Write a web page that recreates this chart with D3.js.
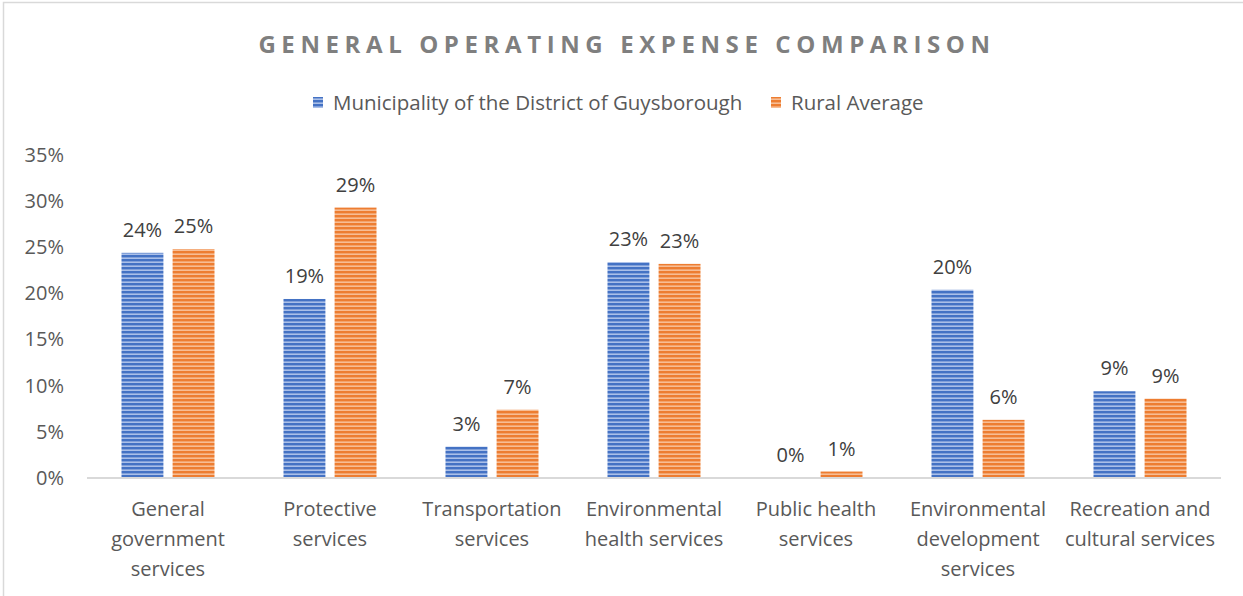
<!DOCTYPE html>
<html>
<head>
<meta charset="utf-8">
<script src="https://cdn.jsdelivr.net/npm/d3@7"></script>
<style>
  body { margin: 0; background: #fff; }
  svg { display: block; font-family: "Open Sans", Lato, sans-serif; }
</style>
</head>
<body>
<svg id="chart" width="1243" height="596"></svg>
<script>
// categories (line breaks as in the picture)
const categories = [
    ["General", "government", "services"],
    ["Protective", "services"],
    ["Transportation", "services"],
    ["Environmental", "health services"],
    ["Public health", "services"],
    ["Environmental", "development", "services"],
    ["Recreation and", "cultural services"]
];
const seriesNames = ["Municipality of the District of Guysborough", "Rural Average"];
const guysborough = [0.244, 0.194, 0.034, 0.234, 0.0, 0.204, 0.094];
const ruralAverage = [0.248, 0.293, 0.074, 0.232, 0.007, 0.063, 0.086];
const yTicks = [0, 0.05, 0.10, 0.15, 0.20, 0.25, 0.30, 0.35];

const colors = ["#4472C4", "#ED7D31"];
const lightColors = ["#aabfe8", "#f7bd94"];

var svg = d3.select("#chart");
var margin = {left: 87, right: 22, top: 155, bottom: 118},
    width = 1243 - margin.left - margin.right,
    height = 596 - margin.top - margin.bottom;

// striped fills
var defs = svg.append("defs");
colors.forEach(function(c, i) {
    var p = defs.append("pattern")
        .attr("id", "stripe" + i)
        .attr("patternUnits", "userSpaceOnUse")
        .attr("width", 8).attr("height", 4);
    p.append("rect").attr("width", 8).attr("height", 4).attr("fill", lightColors[i]);
    p.append("rect").attr("width", 8).attr("height", 2.4).attr("fill", c);
});

// outer border (cropped on right/bottom)
svg.append("rect")
    .attr("x", 3.5).attr("y", 2.5)
    .attr("width", 1300).attr("height", 700)
    .attr("fill", "none").attr("stroke", "#d9d9d9").attr("stroke-width", 1.5);

var x0 = d3.scaleBand().domain(d3.range(categories.length)).range([0, width]);
var x1 = d3.scaleBand().domain([0, 1]).range([0, 93]).paddingInner(0.18);
var y = d3.scaleLinear().domain([0, 0.35]).range([height, 0]);

var g = svg.append("g").attr("transform", "translate(" + margin.left + "," + margin.top + ")");

// title
svg.append("text")
    .attr("x", 627).attr("y", 53)
    .attr("text-anchor", "middle")
    .style("font-size", "24px")
    .style("font-weight", "bold")
    .style("letter-spacing", "5.6px")
    .style("fill", "#7f7f7f")
    .text("GENERAL OPERATING EXPENSE COMPARISON");

// legend
var legendX = [313, 771];
seriesNames.forEach(function(name, i) {
    svg.append("rect")
        .attr("x", legendX[i]).attr("y", 97)
        .attr("width", 10).attr("height", 11)
        .attr("fill", "url(#stripe" + i + ")");
    svg.append("text")
        .attr("x", legendX[i] + 20).attr("y", 110)
        .style("font-size", "20.5px")
        .style("fill", "#595959")
        .text(name);
});

// y axis labels
var yAxis = g.append("g")
    .call(d3.axisLeft(y).tickValues(yTicks).tickFormat(d3.format(".0%")).tickSize(0).tickPadding(23));
yAxis.select(".domain").remove();
yAxis.selectAll("text")
    .style("font-family", "'Open Sans', sans-serif")
    .style("font-size", "20px")
    .style("fill", "#595959");

// bars
var series = [guysborough, ruralAverage];
var offset = (x0.bandwidth() - 93) / 2;
series.forEach(function(vals, s) {
    g.selectAll(".bar" + s)
        .data(vals)
        .enter()
        .append("rect")
        .attr("class", "bar" + s)
        .attr("x", function(d, i) { return x0(i) + offset + x1(s); })
        .attr("y", function(d) { return y(d); })
        .attr("width", x1.bandwidth())
        .attr("height", function(d) { return height - y(d); })
        .attr("fill", "url(#stripe" + s + ")");

    g.selectAll(".lab" + s)
        .data(vals)
        .enter()
        .append("text")
        .attr("class", "lab" + s)
        .attr("x", function(d, i) { return x0(i) + offset + x1(s) + x1.bandwidth() / 2; })
        .attr("y", function(d) { return y(d) - 16; })
        .attr("text-anchor", "middle")
        .style("font-size", "20px")
        .style("fill", "#404040")
        .text(d3.format(".0%"));
});

// baseline
g.append("line")
    .attr("x1", 0).attr("x2", width)
    .attr("y1", height).attr("y2", height)
    .attr("stroke", "#d9d9d9").attr("stroke-width", 2);

// category labels
categories.forEach(function(lines, i) {
    var t = g.append("text")
        .attr("x", x0(i) + x0.bandwidth() / 2)
        .attr("y", height + 38)
        .attr("text-anchor", "middle")
        .style("font-size", "20px")
        .style("fill", "#595959");
    lines.forEach(function(l, k) {
        t.append("tspan")
            .attr("x", x0(i) + x0.bandwidth() / 2)
            .attr("dy", k == 0 ? 0 : 30)
            .text(l);
    });
});
</script>
</body>
</html>
